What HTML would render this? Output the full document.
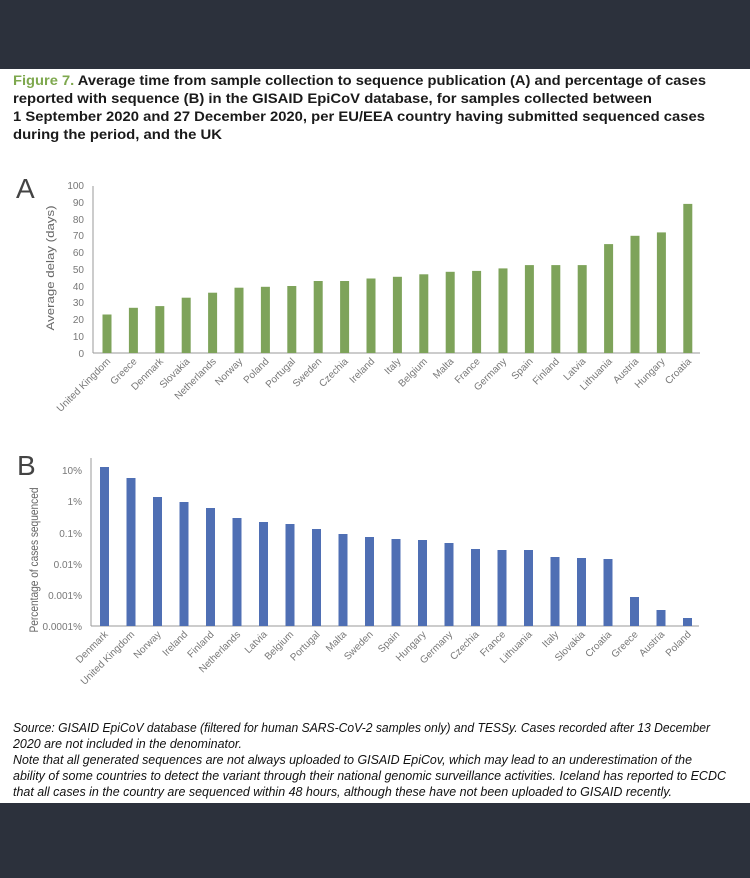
<!DOCTYPE html>
<html><head><meta charset="utf-8"><style>
html,body{margin:0;padding:0;background:#fff;}
svg{display:block;}
</style></head><body>
<svg width="750" height="878" viewBox="0 0 750 878" xmlns="http://www.w3.org/2000/svg" font-family="Liberation Sans, sans-serif">
<rect x="0" y="0" width="750" height="69" fill="#2c313c"/>
<rect x="0" y="803" width="750" height="75" fill="#2c313c"/>
<g font-weight="bold" font-size="14" fill="#1a1a1a">
<text x="13" y="85" textLength="693" lengthAdjust="spacingAndGlyphs"><tspan fill="#7ea84e">Figure 7.</tspan> Average time from sample collection to sequence publication (A) and percentage of cases</text>
<text x="13" y="103" textLength="639" lengthAdjust="spacingAndGlyphs">reported with sequence (B) in the GISAID EpiCoV database, for samples collected between</text>
<text x="13" y="121" textLength="692" lengthAdjust="spacingAndGlyphs">1 September 2020 and 27 December 2020, per EU/EEA country having submitted sequenced cases</text>
<text x="13" y="139" textLength="209" lengthAdjust="spacingAndGlyphs">during the period, and the UK</text>
</g>
<!-- Chart A -->
<text x="16" y="198" font-size="28" fill="#444">A</text>
<text transform="translate(54,268) rotate(-90)" text-anchor="middle" font-size="11" fill="#666" textLength="125" lengthAdjust="spacingAndGlyphs">Average delay (days)</text>
<g font-size="10" fill="#777" text-anchor="end">
<text x="84" y="357">0</text><text x="84" y="340">10</text><text x="84" y="323">20</text><text x="84" y="306">30</text><text x="84" y="290">40</text><text x="84" y="273">50</text><text x="84" y="256">60</text><text x="84" y="239">70</text><text x="84" y="223">80</text><text x="84" y="206">90</text><text x="84" y="189">100</text>
</g>
<g stroke="#999" stroke-width="1">
<line x1="93" y1="186" x2="93" y2="353"/><line x1="93" y1="353" x2="700" y2="353"/>
</g>
<g fill="#7ea35a">
<rect x="102.5" y="314.5" width="9" height="38.5"/>
<rect x="128.9" y="307.8" width="9" height="45.2"/>
<rect x="155.3" y="306.1" width="9" height="46.9"/>
<rect x="181.7" y="297.7" width="9" height="55.3"/>
<rect x="208.1" y="292.7" width="9" height="60.3"/>
<rect x="234.5" y="287.7" width="9" height="65.3"/>
<rect x="260.9" y="286.8" width="9" height="66.2"/>
<rect x="287.3" y="286" width="9" height="67"/>
<rect x="313.7" y="281" width="9" height="72"/>
<rect x="340.1" y="281" width="9" height="72"/>
<rect x="366.5" y="278.5" width="9" height="74.5"/>
<rect x="392.9" y="276.8" width="9" height="76.2"/>
<rect x="419.3" y="274.3" width="9" height="78.7"/>
<rect x="445.7" y="271.8" width="9" height="81.2"/>
<rect x="472.1" y="270.9" width="9" height="82.1"/>
<rect x="498.5" y="268.4" width="9" height="84.6"/>
<rect x="524.9" y="265.1" width="9" height="87.9"/>
<rect x="551.3" y="265.1" width="9" height="87.9"/>
<rect x="577.7" y="265.1" width="9" height="87.9"/>
<rect x="604.1" y="244.1" width="9" height="108.9"/>
<rect x="630.5" y="235.8" width="9" height="117.2"/>
<rect x="656.9" y="232.4" width="9" height="120.6"/>
<rect x="683.3" y="203.9" width="9" height="149.1"/>
</g>
<g font-size="10" fill="#777" text-anchor="end">
<text transform="translate(111,362) rotate(-45)">United Kingdom</text>
<text transform="translate(137.4,362) rotate(-45)">Greece</text>
<text transform="translate(163.8,362) rotate(-45)">Denmark</text>
<text transform="translate(190.2,362) rotate(-45)">Slovakia</text>
<text transform="translate(216.6,362) rotate(-45)">Netherlands</text>
<text transform="translate(243,362) rotate(-45)">Norway</text>
<text transform="translate(269.4,362) rotate(-45)">Poland</text>
<text transform="translate(295.8,362) rotate(-45)">Portugal</text>
<text transform="translate(322.2,362) rotate(-45)">Sweden</text>
<text transform="translate(348.6,362) rotate(-45)">Czechia</text>
<text transform="translate(375,362) rotate(-45)">Ireland</text>
<text transform="translate(401.4,362) rotate(-45)">Italy</text>
<text transform="translate(427.8,362) rotate(-45)">Belgium</text>
<text transform="translate(454.2,362) rotate(-45)">Malta</text>
<text transform="translate(480.6,362) rotate(-45)">France</text>
<text transform="translate(507,362) rotate(-45)">Germany</text>
<text transform="translate(533.4,362) rotate(-45)">Spain</text>
<text transform="translate(559.8,362) rotate(-45)">Finland</text>
<text transform="translate(586.2,362) rotate(-45)">Latvia</text>
<text transform="translate(612.6,362) rotate(-45)">Lithuania</text>
<text transform="translate(639,362) rotate(-45)">Austria</text>
<text transform="translate(665.4,362) rotate(-45)">Hungary</text>
<text transform="translate(691.8,362) rotate(-45)">Croatia</text>
</g>
<!-- Chart B -->
<text x="17" y="475" font-size="28" fill="#444">B</text>
<text transform="translate(38,560) rotate(-90)" text-anchor="middle" font-size="12" fill="#666" textLength="145" lengthAdjust="spacingAndGlyphs">Percentage of cases sequenced</text>
<g font-size="10" fill="#777" text-anchor="end">
<text x="82" y="474">10%</text><text x="82" y="505">1%</text><text x="82" y="537">0.1%</text><text x="82" y="568">0.01%</text><text x="82" y="599">0.001%</text><text x="82" y="630">0.0001%</text>
</g>
<g stroke="#999" stroke-width="1">
<line x1="91" y1="458" x2="91" y2="626"/><line x1="91" y1="626" x2="699" y2="626"/>
</g>
<g fill="#4f6fb4">
<rect x="100" y="467" width="9" height="159"/>
<rect x="126.5" y="478" width="9" height="148"/>
<rect x="153" y="497" width="9" height="129"/>
<rect x="179.5" y="502" width="9" height="124"/>
<rect x="206" y="508" width="9" height="118"/>
<rect x="232.5" y="518" width="9" height="108"/>
<rect x="259" y="522" width="9" height="104"/>
<rect x="285.5" y="524" width="9" height="102"/>
<rect x="312" y="529" width="9" height="97"/>
<rect x="338.5" y="534" width="9" height="92"/>
<rect x="365" y="537" width="9" height="89"/>
<rect x="391.5" y="539" width="9" height="87"/>
<rect x="418" y="540" width="9" height="86"/>
<rect x="444.5" y="543" width="9" height="83"/>
<rect x="471" y="549" width="9" height="77"/>
<rect x="497.5" y="550" width="9" height="76"/>
<rect x="524" y="550" width="9" height="76"/>
<rect x="550.5" y="557" width="9" height="69"/>
<rect x="577" y="558" width="9" height="68"/>
<rect x="603.5" y="559" width="9" height="67"/>
<rect x="630" y="597" width="9" height="29"/>
<rect x="656.5" y="610" width="9" height="16"/>
<rect x="683" y="618" width="9" height="8"/>
</g>
<g font-size="10" fill="#777" text-anchor="end">
<text transform="translate(108.5,635) rotate(-45)">Denmark</text>
<text transform="translate(135,635) rotate(-45)">United Kingdom</text>
<text transform="translate(161.5,635) rotate(-45)">Norway</text>
<text transform="translate(188,635) rotate(-45)">Ireland</text>
<text transform="translate(214.5,635) rotate(-45)">Finland</text>
<text transform="translate(241,635) rotate(-45)">Netherlands</text>
<text transform="translate(267.5,635) rotate(-45)">Latvia</text>
<text transform="translate(294,635) rotate(-45)">Belgium</text>
<text transform="translate(320.5,635) rotate(-45)">Portugal</text>
<text transform="translate(347,635) rotate(-45)">Malta</text>
<text transform="translate(373.5,635) rotate(-45)">Sweden</text>
<text transform="translate(400,635) rotate(-45)">Spain</text>
<text transform="translate(426.5,635) rotate(-45)">Hungary</text>
<text transform="translate(453,635) rotate(-45)">Germany</text>
<text transform="translate(479.5,635) rotate(-45)">Czechia</text>
<text transform="translate(506,635) rotate(-45)">France</text>
<text transform="translate(532.5,635) rotate(-45)">Lithuania</text>
<text transform="translate(559,635) rotate(-45)">Italy</text>
<text transform="translate(585.5,635) rotate(-45)">Slovakia</text>
<text transform="translate(612,635) rotate(-45)">Croatia</text>
<text transform="translate(638.5,635) rotate(-45)">Greece</text>
<text transform="translate(665,635) rotate(-45)">Austria</text>
<text transform="translate(691.5,635) rotate(-45)">Poland</text>
</g>
<g font-size="12.5" font-style="italic" fill="#111">
<text x="13" y="732" textLength="697" lengthAdjust="spacingAndGlyphs">Source: GISAID EpiCoV database (filtered for human SARS-CoV-2 samples only) and TESSy. Cases recorded after 13 December</text>
<text x="13" y="748" textLength="229" lengthAdjust="spacingAndGlyphs">2020 are not included in the denominator.</text>
<text x="13" y="764" textLength="679" lengthAdjust="spacingAndGlyphs">Note that all generated sequences are not always uploaded to GISAID EpiCov, which may lead to an underestimation of the</text>
<text x="13" y="780" textLength="713" lengthAdjust="spacingAndGlyphs">ability of some countries to detect the variant through their national genomic surveillance activities. Iceland has reported to ECDC</text>
<text x="13" y="796" textLength="659" lengthAdjust="spacingAndGlyphs">that all cases in the country are sequenced within 48 hours, although these have not been uploaded to GISAID recently.</text>
</g>
</svg>
</body></html>
